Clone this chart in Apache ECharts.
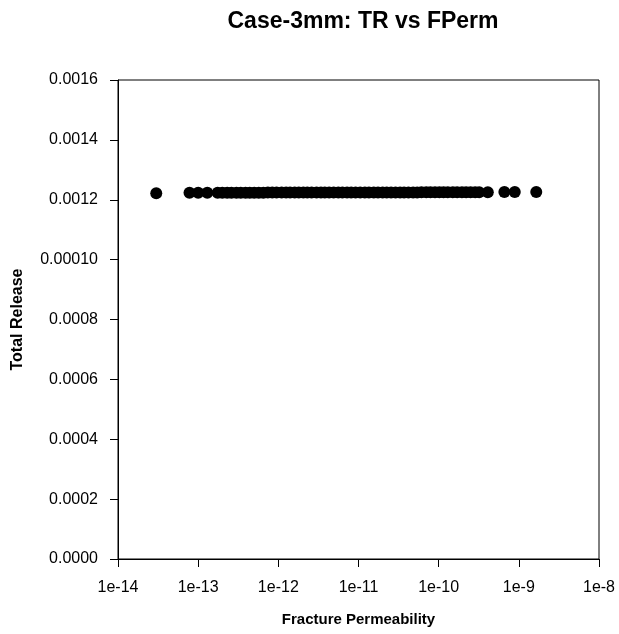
<!DOCTYPE html>
<html>
<head>
<meta charset="utf-8">
<script src="https://cdn.jsdelivr.net/npm/echarts@6/dist/echarts.min.js"></script>
<style>html,body{margin:0;padding:0;background:#fff}#c{width:619px;height:634px}</style>
</head>
<body>
<div id="c"></div>
<script>
var fracturePerm = [3.0e-14, 7.8e-14, 1.0e-13, 1.3e-13, 1.75e-13, 2.0e-13, 2.3e-13, 2.6e-13, 3.0e-13, 3.4e-13,
  3.9e-13, 4.4e-13, 5.0e-13, 5.7e-13, 6.5e-13, 7.4e-13, 8.4e-13, 9.5e-13, 1.1e-12, 1.25e-12,
  1.4e-12, 1.6e-12, 1.8e-12, 2.05e-12, 2.3e-12, 2.6e-12, 3.0e-12, 3.4e-12, 3.8e-12, 4.3e-12,
  4.9e-12, 5.6e-12, 6.3e-12, 7.2e-12, 8.1e-12, 9.2e-12, 1.05e-11, 1.2e-11, 1.35e-11, 1.55e-11,
  1.75e-11, 2.0e-11, 2.25e-11, 2.55e-11, 2.9e-11, 3.3e-11, 3.7e-11, 4.2e-11, 4.8e-11, 5.4e-11,
  6.1e-11, 7.0e-11, 7.9e-11, 9.0e-11, 1.02e-10, 1.15e-10, 1.3e-10, 1.5e-10, 1.7e-10, 1.95e-10,
  2.2e-10, 2.5e-10, 2.85e-10, 3.2e-10, 4.1e-10, 6.6e-10, 8.9e-10, 1.65e-9];
var totalRelease = [0.001222, 0.001223, 0.001223, 0.001223, 0.001223, 0.001223, 0.001223, 0.001223, 0.001223, 0.001223,
  0.001223, 0.001223, 0.001223, 0.001223, 0.001223, 0.001224, 0.001224, 0.001224, 0.001224, 0.001224,
  0.001224, 0.001224, 0.001224, 0.001224, 0.001224, 0.001224, 0.001224, 0.001224, 0.001224, 0.001224,
  0.001224, 0.001224, 0.001224, 0.001224, 0.001224, 0.001224, 0.001224, 0.001224, 0.001224, 0.001224,
  0.001224, 0.001224, 0.001224, 0.001224, 0.001224, 0.001224, 0.001224, 0.001224, 0.001224, 0.001224,
  0.001225, 0.001225, 0.001225, 0.001225, 0.001225, 0.001225, 0.001225, 0.001225, 0.001225, 0.001225,
  0.001225, 0.001225, 0.001225, 0.001225, 0.001225, 0.001226, 0.001226, 0.001226];
var yTickLabels = ["0.0000", "0.0002", "0.0004", "0.0006", "0.0008", "0.00010", "0.0012", "0.0014", "0.0016"];
var xTickLabels = ["1e-14", "1e-13", "1e-12", "1e-11", "1e-10", "1e-9", "1e-8"];

var pts = fracturePerm.map(function (x, i) { return [x, totalRelease[i]]; });
var chart = echarts.init(document.getElementById('c'), null, {renderer: 'canvas'});
var font = '"Liberation Sans", Arial, sans-serif';
chart.setOption({
  animation: false,
  backgroundColor: '#fff',
  title: {
    text: 'Case-3mm: TR vs FPerm',
    left: 358, top: 5, textAlign: 'center',
    textStyle: {fontFamily: font, fontSize: 23, fontWeight: 'bold', color: '#000'}
  },
  grid: {left: 118, right: 20, top: 80, bottom: 75, show: true, borderColor: '#000', borderWidth: 1, backgroundColor: 'transparent'},
  xAxis: {
    type: 'log', logBase: 10, min: 1e-14, max: 1e-8,
    name: 'Fracture Permeability', nameLocation: 'middle', nameGap: 53,
    nameTextStyle: {fontFamily: font, fontSize: 15, fontWeight: 'bold', color: '#000'},
    axisLine: {lineStyle: {color: '#000', width: 1}},
    axisTick: {show: true, length: 8, lineStyle: {color: '#000'}},
    minorTick: {show: false},
    splitLine: {show: false},
    axisLabel: {
      fontFamily: font, fontSize: 16, color: '#000', margin: 21,
      formatter: function (v) { var e = Math.round(Math.log10(v)); return xTickLabels[e + 14]; }
    }
  },
  yAxis: {
    type: 'value', min: 0, max: 0.0016, interval: 0.0002,
    name: 'Total Release', nameLocation: 'middle', nameGap: 92, nameRotate: 90,
    nameTextStyle: {fontFamily: font, fontSize: 16, fontWeight: 'bold', color: '#000'},
    axisLine: {show: true, lineStyle: {color: '#000', width: 1}},
    axisTick: {show: true, length: 8, lineStyle: {color: '#000'}},
    splitLine: {show: false},
    axisLabel: {
      fontFamily: font, fontSize: 16, color: '#000', margin: 20,
      formatter: function (v) { return yTickLabels[Math.round(v / 0.0002)]; }
    }
  },
  series: [{
    type: 'scatter', data: pts, symbol: 'circle', symbolSize: 12,
    itemStyle: {color: '#000', opacity: 1}
  }]
});
</script>
</body>
</html>
